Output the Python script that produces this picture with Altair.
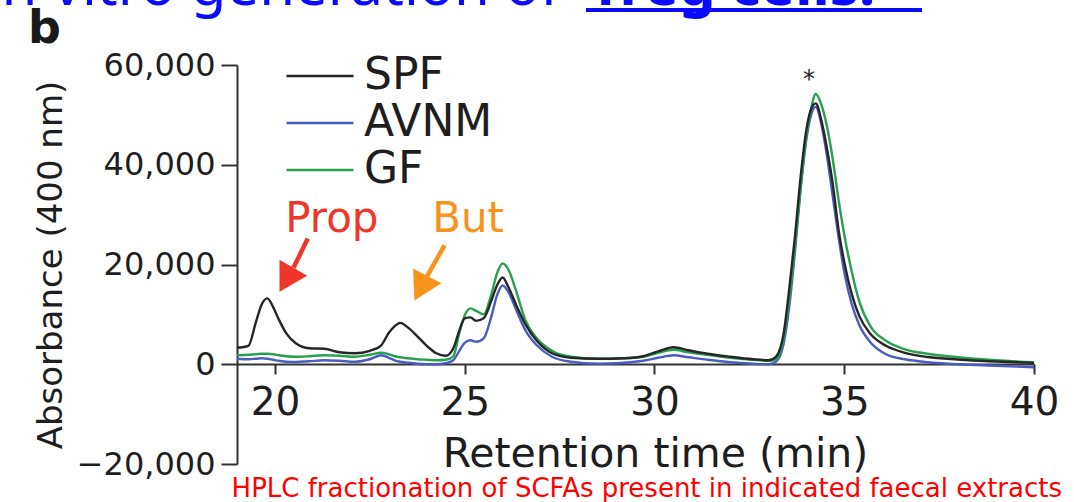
import altair as alt
import pandas as pd

# ---------------- data ----------------
time_min = [19.0, 19.3, 19.5, 19.65, 19.8, 19.95, 20.1, 20.3, 20.55, 20.9,
            21.3, 21.7, 22.1, 22.5, 22.8, 23.0, 23.15, 23.3, 23.5, 23.75,
            24.0, 24.25, 24.5, 24.7, 24.85, 25.0, 25.15, 25.3, 25.5, 25.7,
            25.85, 26.0, 26.15, 26.35, 26.6, 26.9, 27.3, 27.8, 28.5, 29.2,
            29.7, 30.1, 30.5, 30.9, 31.4, 32.0, 32.6, 33.0, 33.2, 33.4,
            33.55, 33.7, 33.85, 34.0, 34.12, 34.25, 34.4, 34.55, 34.7, 34.85,
            35.0, 35.2, 35.4, 35.7, 36.1, 36.6, 37.2, 38.0, 39.0, 40.0]

spf = [3300, 3700, 8500, 12000, 13200, 11500, 9000, 6200, 4200, 3200,
       3100, 2400, 2200, 2700, 3800, 6300, 7600, 8300, 7400, 5600,
       3700, 2200, 1700, 3200, 6600, 9200, 9400, 8700, 9200, 12700,
       15800, 17400, 15500, 12000, 8000, 4700, 2200, 1300, 1100, 1200,
       1600, 2600, 3400, 2800, 2100, 1500, 1000, 800, 1500, 6000,
       15000, 25500, 37500, 46900, 51000, 52300, 48800, 43000, 36000, 27000,
       20500, 14000, 9600, 6000, 3700, 2300, 1450, 950, 550, 270]

avnm = [1100, 1000, 1100, 1200, 1100, 900, 700, 500, 450, 600,
        800, 700, 500, 1000, 1800, 1300, 800, 500, 300, 100,
        0, 0, 200, 800, 2600, 4300, 4800, 4500, 5200, 9500,
        13800, 15800, 14500, 11000, 6800, 3800, 1500, 500, 100, 300,
        700, 1300, 1800, 1400, 900, 400, 100, 0, 500, 4000,
        11500, 22500, 35000, 45000, 49800, 51600, 48000, 41500, 33500, 25500,
        18500, 12000, 7800, 4300, 2000, 1000, 400, 0, -300, -600]

gf = [1800, 1900, 2000, 2100, 2100, 2000, 1800, 1600, 1500, 1600,
      1800, 1700, 1500, 1900, 2300, 2000, 1600, 1400, 1200, 1000,
      900, 800, 900, 1600, 6000, 9800, 11200, 10700, 10000, 14000,
      18200, 20200, 19000, 14800, 8800, 5200, 2700, 1500, 1100, 1200,
      1500, 2300, 2900, 2400, 1900, 1300, 900, 700, 1000, 5000,
      13000, 23500, 35500, 45500, 51000, 54200, 52000, 47500, 41000, 33000,
      26000, 18500, 12500, 7500, 4700, 3000, 2100, 1400, 800, 400]

series_names = ["SPF", "AVNM", "GF"]
series_colors = ["#262626", "#4a5cbf", "#27a04f"]

x_ticks = [20, 25, 30, 35, 40]
y_ticks = [-20000, 0, 20000, 40000, 60000]

# annotations (data coordinates)
ann_labels = ["Prop", "But"]
ann_colors = ["#f0362b", "#f7941d"]
ann_label_t = [21.5, 25.09]
ann_label_v = [26470, 26470]
arrow_start_t = [20.865, 24.469]
arrow_start_v = [25200, 23860]
arrow_base_t = [20.488, 24.007]
arrow_base_v = [19350, 17640]
arrow_head_t = [20.303, 23.843]
arrow_head_v = [16920, 15240]
arrow_angle = [30, 27.5]

star_label = ["*"]
star_t = [34.07]
star_v = [55500]

panel_letter = ["b"]
slide_title_left = ["facilitate in vitro generation of"]
slide_title_right = ["Treg cells."]
caption = ["HPLC fractionation of SCFAs present in indicated faecal extracts"]

# ---------------- build tables ----------------
rows = []
for name, vals in zip(series_names, [spf, avnm, gf]):
    for t, v in zip(time_min, vals):
        rows.append({"time": t, "absorbance": v, "sample": name})
df = pd.DataFrame(rows)

ann_df = pd.DataFrame({
    "label": ann_labels, "col": ann_colors,
    "time": ann_label_t, "absorbance": ann_label_v,
})
arrow_df = pd.DataFrame({
    "col": ann_colors,
    "time": arrow_start_t, "absorbance": arrow_start_v,
    "time2": arrow_base_t, "absorbance2": arrow_base_v,
})
head_df = pd.DataFrame({
    "col": ann_colors, "time": arrow_head_t, "absorbance": arrow_head_v,
    "angle": arrow_angle,
})
star_df = pd.DataFrame({"label": star_label, "time": star_t, "absorbance": star_v})

FONT = "DejaVu Sans"
TXT = "#1e1e1e"

x_scale = alt.Scale(domain=[19, 40], nice=False, zero=False)
y_scale = alt.Scale(domain=[-20000, 60000], nice=False, zero=False)
color_scale = alt.Scale(domain=series_names, range=series_colors)

x_axis = alt.Axis(values=x_ticks, offset=-100, tickSize=10, tickWidth=2,
                  tickColor="#333", domainColor="#333", domainWidth=2,
                  labelFont=FONT, labelFontSize=39, labelColor=TXT,
                  labelPadding=9, labelFlush=False, grid=False,
                  title="Retention time (min)", titleFont=FONT,
                  titleFontSize=41, titleFontWeight="normal",
                  titleColor=TXT, titlePadding=12, titleX=418)
y_axis = alt.Axis(values=y_ticks, format=",.0f", tickSize=16, tickWidth=2,
                  tickColor="#333", domainColor="#333", domainWidth=2,
                  labelFont=FONT, labelFontSize=32, labelColor=TXT,
                  labelPadding=6, grid=False,
                  title="Absorbance (400 nm)", titleFont=FONT,
                  titleFontSize=34, titleFontWeight="normal",
                  titleColor=TXT, titlePadding=8)

x_enc = alt.X("time:Q", scale=x_scale, axis=x_axis)
y_enc = alt.Y("absorbance:Q", scale=y_scale, axis=y_axis)

legend = alt.Legend(title=None, orient="none", legendX=61, legendY=-11,
                    symbolType="M-2,0H2", symbolSize=1122,
                    symbolStrokeWidth=2.5, labelFont=FONT, labelFontSize=44,
                    labelColor=TXT, rowPadding=3, labelOffset=22, padding=0)

base = alt.Chart(df)


def series_layer(name):
    return base.transform_filter(alt.datum.sample == name).mark_line(
        strokeWidth=2.4, interpolate="monotone"
    ).encode(
        x=x_enc, y=y_enc,
        color=alt.Color("sample:N", scale=color_scale, legend=legend),
    )


lines = [series_layer("AVNM"), series_layer("GF"), series_layer("SPF")]

ann_text = alt.Chart(ann_df).mark_text(
    font=FONT, fontSize=42, align="center", baseline="alphabetic"
).encode(x=x_enc, y=y_enc, text="label:N", color=alt.Color("col:N", scale=None))

arrow_shaft = alt.Chart(arrow_df).mark_rule(strokeWidth=4.5).encode(
    x=x_enc, y=y_enc, x2="time2:Q", y2="absorbance2:Q",
    color=alt.Color("col:N", scale=None))

arrow_head = alt.Chart(head_df).mark_point(
    shape="triangle-down", filled=True, size=1024, opacity=1
).encode(x=x_enc, y=y_enc, color=alt.Color("col:N", scale=None),
         angle=alt.Angle("angle:Q", scale=None))

star = alt.Chart(star_df).mark_text(
    font=FONT, fontSize=24, color="#222", align="center", baseline="alphabetic"
).encode(x=x_enc, y=y_enc, text="label:N")

letter = alt.Chart(pd.DataFrame({"label": panel_letter})).mark_text(
    font=FONT, fontSize=46, fontWeight="bold", color="#1a1a1a",
    align="left", baseline="alphabetic"
).encode(x=alt.value(-209), y=alt.value(-22), text="label:N")

title_left = alt.Chart(pd.DataFrame({"label": slide_title_left})).mark_text(
    font="Noto Sans", fontSize=58, color="#0a0aff",
    align="right", baseline="alphabetic"
).encode(x=alt.value(323), y=alt.value(-60), text="label:N")

title_right = alt.Chart(pd.DataFrame({"label": slide_title_right})).mark_text(
    font="Noto Sans", fontSize=58, fontWeight="bold", color="#0a0aff",
    align="left", baseline="alphabetic"
).encode(x=alt.value(352), y=alt.value(-60), text="label:N")

title_underline = alt.Chart(pd.DataFrame({"label": slide_title_right})).mark_rule(
    color="#0a0aff", strokeWidth=4
).encode(x=alt.value(349), x2=alt.value(685), y=alt.value(-55))

caption_text = alt.Chart(pd.DataFrame({"label": caption})).mark_text(
    font=FONT, fontSize=26, color="#ff0000", align="right", baseline="alphabetic"
).encode(x=alt.value(825), y=alt.value(432), text="label:N")

chart = alt.layer(
    *lines, ann_text, arrow_shaft, arrow_head, star,
    letter, title_left, title_right, title_underline, caption_text
).properties(
    width=797, height=399,
    autosize=alt.AutoSizeParams(type="none"),
    padding={"left": 237, "top": 65, "right": 40, "bottom": 38},
    background="white",
).configure_view(stroke=None)

chart.save("out.html", embed_options={"renderer": "svg", "actions": False})
